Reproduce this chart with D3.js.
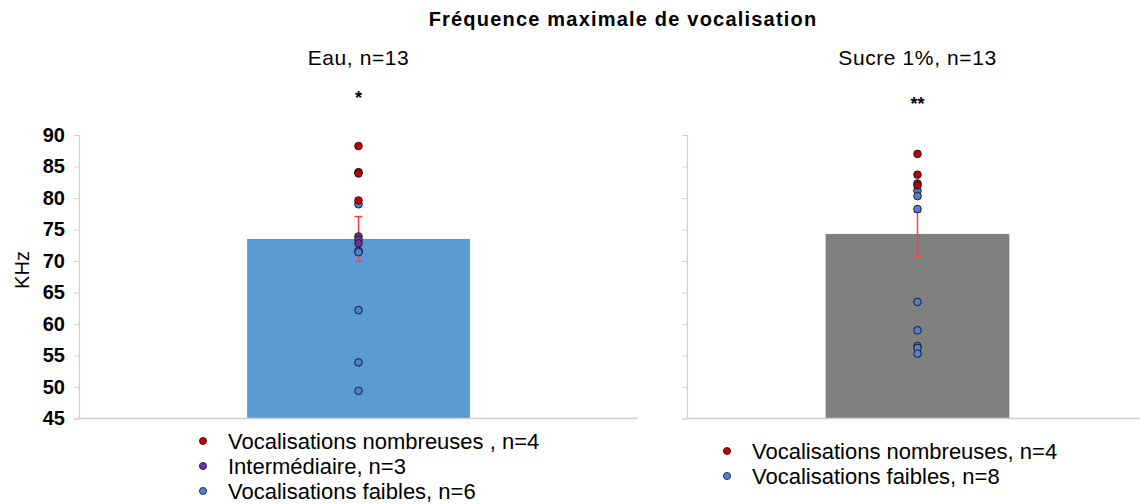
<!DOCTYPE html>
<html>
<head>
<meta charset="utf-8">
<script src="https://cdn.jsdelivr.net/npm/d3@7"></script>
<style>
  html, body { margin: 0; padding: 0; background: #fff; }
  svg { display: block; font-family: "Liberation Sans", Arial, sans-serif; }
</style>
</head>
<body>
<svg id="chart" width="1140" height="504"></svg>
<script>
// Maximum vocalisation frequency (kHz), water vs 1% sucrose
const groups = ["Eau, n=13", "Sucre 1%, n=13"];
const stars = ["*", "**"];
const barMeans = [73.5, 74.3];
const barSem = [3.55, 3.5];
const barColors = ["#5B9BD5", "#808080"];

// individual animals, per group and vocalisation profile
const eauNombreuses = [88.25, 84.1, 83.9, 79.6];
const eauIntermediaire = [73.9, 73.4, 72.8];
const eauFaibles = [79.0, 71.6, 71.4, 62.2, 53.9, 49.4];
const sucreNombreuses = [87.0, 83.7, 82.3, 82.0];
const sucreFaibles = [81.2, 80.3, 78.25, 63.5, 59.0, 56.5, 56.2, 55.3];

const profileColors = { nombreuses: "#C00000", intermediaire: "#7030A0", faibles: "#4F81D0" };

const legendEau = [
  { label: "Vocalisations nombreuses , n=4", key: "nombreuses" },
  { label: "Intermédiaire, n=3", key: "intermediaire" },
  { label: "Vocalisations faibles, n=6", key: "faibles" }
];
const legendSucre = [
  { label: "Vocalisations nombreuses, n=4", key: "nombreuses" },
  { label: "Vocalisations faibles, n=8", key: "faibles" }
];

const yTicks = [45, 50, 55, 60, 65, 70, 75, 80, 85, 90];

const svg = d3.select("#chart");
const y = d3.scaleLinear().domain([45, 90]).range([418.5, 135]);

const panels = [
  { range: [79, 638], showLabels: true,
    points: [
      ...eauFaibles.map(v => ({ v, key: "faibles" })),
      ...eauIntermediaire.map(v => ({ v, key: "intermediaire" })),
      ...eauNombreuses.map(v => ({ v, key: "nombreuses" }))
    ],
    legend: legendEau, legendX: 203, legendY: 441 },
  { range: [687, 1148], showLabels: false,
    points: [
      ...sucreFaibles.map(v => ({ v, key: "faibles" })),
      ...sucreNombreuses.map(v => ({ v, key: "nombreuses" }))
    ],
    legend: legendSucre, legendX: 727, legendY: 451 }
];

// title
svg.append("text")
  .attr("x", 623).attr("y", 26)
  .attr("text-anchor", "middle")
  .attr("font-size", 20).attr("font-weight", "bold")
  .attr("letter-spacing", 1.2)
  .attr("fill", "#000")
  .text("Fréquence maximale de vocalisation");

// y-axis title
svg.append("text")
  .attr("transform", "translate(29,270) rotate(-90)")
  .attr("text-anchor", "middle")
  .attr("font-size", 20)
  .text("KHz");

panels.forEach((p, i) => {
  const x = d3.scaleBand().domain([groups[i]]).range(p.range).padding(0.43);
  const cx = x(groups[i]) + x.bandwidth() / 2;
  const g = svg.append("g");

  // y axis with light grey line and ticks
  const axis = d3.axisLeft(y).tickValues(yTicks).tickSize(5).tickPadding(9)
    .tickFormat(p.showLabels ? d3.format("d") : () => "");
  const ga = g.append("g").attr("transform", `translate(${p.range[0]},0)`).call(axis);
  ga.select(".domain").attr("stroke", "#d0d0d0").attr("stroke-width", 1.2);
  ga.selectAll(".tick line").attr("stroke", "#d0d0d0");
  ga.selectAll(".tick text")
    .attr("font-size", 20).attr("font-weight", "bold")
    .attr("font-family", "Liberation Sans, Arial, sans-serif")
    .attr("fill", "#000");

  // bar
  g.append("rect")
    .attr("x", x(groups[i])).attr("width", x.bandwidth())
    .attr("y", y(barMeans[i])).attr("height", y(45) - y(barMeans[i]))
    .attr("fill", barColors[i]);

  // baseline
  g.append("line")
    .attr("x1", p.range[0]).attr("x2", p.range[1])
    .attr("y1", y(45)).attr("y2", y(45))
    .attr("stroke", "#d0d0d0").attr("stroke-width", 1.5);

  // error bar (SEM)
  const lo = barMeans[i] - barSem[i], hi = barMeans[i] + barSem[i];
  const eb = g.append("g").attr("stroke", "#FF4040").attr("stroke-width", 1.5);
  eb.append("line").attr("x1", cx).attr("x2", cx).attr("y1", y(lo)).attr("y2", y(hi));
  [lo, hi].forEach(v => eb.append("line")
    .attr("x1", cx - 4).attr("x2", cx + 4).attr("y1", y(v)).attr("y2", y(v)));

  // individual points
  g.selectAll("circle.pt").data(p.points).join("circle")
    .attr("class", "pt")
    .attr("cx", cx).attr("cy", d => y(d.v)).attr("r", 3.8)
    .attr("fill", d => profileColors[d.key])
    .attr("stroke", "#1a1a2a").attr("stroke-width", 1);

  // group label and significance
  svg.append("text")
    .attr("x", cx).attr("y", 65)
    .attr("text-anchor", "middle").attr("font-size", 21)
    .attr("letter-spacing", 0.6)
    .text(groups[i]);
  svg.append("text")
    .attr("x", cx).attr("y", i === 0 ? 104 : 110)
    .attr("text-anchor", "middle").attr("font-size", 18).attr("font-weight", "bold")
    .text(stars[i]);

  // legend
  const lg = svg.append("g");
  p.legend.forEach((d, j) => {
    const yy = p.legendY + j * 25;
    lg.append("circle")
      .attr("cx", p.legendX).attr("cy", yy).attr("r", 3.6)
      .attr("fill", profileColors[d.key])
      .attr("stroke", "#1a1a2a").attr("stroke-width", 0.8);
    lg.append("text")
      .attr("x", p.legendX + 25).attr("y", yy + 8)
      .attr("font-size", 22)
      .text(d.label);
  });
});
</script>
</body>
</html>
